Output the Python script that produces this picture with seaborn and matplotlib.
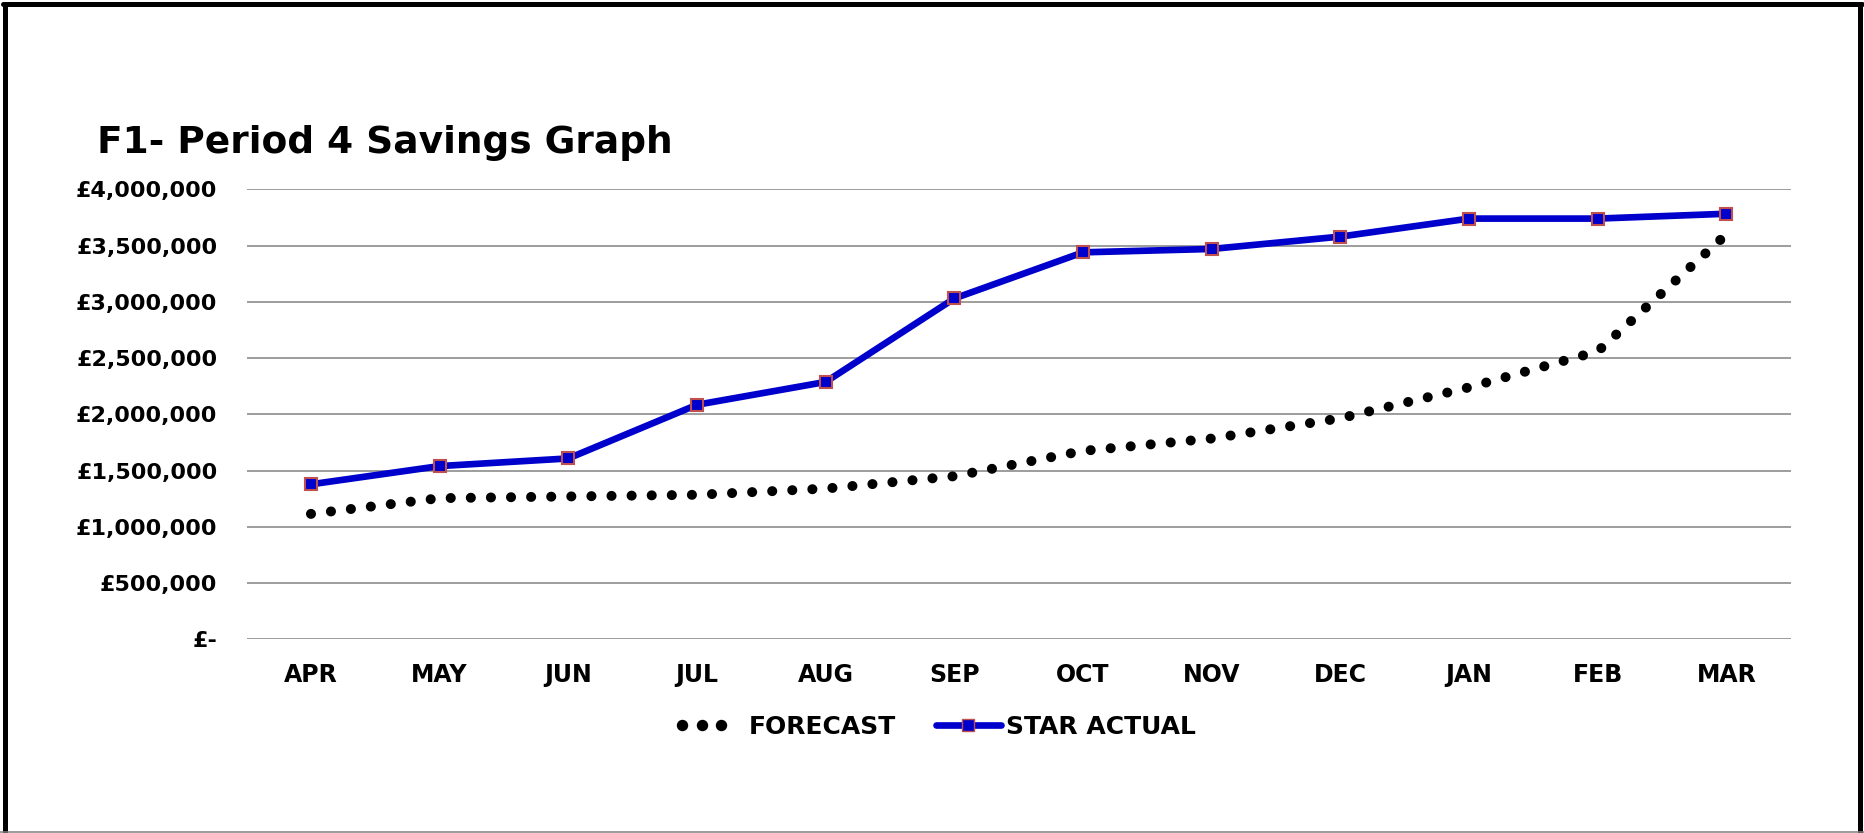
import matplotlib
matplotlib.use("Agg")
import matplotlib.pyplot as plt
import matplotlib.ticker as mticker
from matplotlib.lines import Line2D
from matplotlib.legend_handler import HandlerLine2D
import seaborn as sns
import numpy as np
import pandas as pd

# months of the financial year
months = ["APR", "MAY", "JUN", "JUL", "AUG", "SEP", "OCT", "NOV", "DEC", "JAN", "FEB", "MAR"]

# values (GBP)
forecast = [1115000, 1255000, 1270000, 1285000, 1340000, 1450000,
            1675000, 1785000, 1965000, 2240000, 2560000, 3600000]
star_actual = [1378000, 1540000, 1608000, 2085000, 2288000, 3030000,
               3440000, 3470000, 3580000, 3740000, 3740000, 3783000]

y_ticks = [0, 500000, 1000000, 1500000, 2000000, 2500000, 3000000, 3500000, 4000000]

title = "F1- Period 4 Savings Graph"
forecast_label = "FORECAST"
actual_label = "STAR ACTUAL"

df = pd.DataFrame({"month": months, "FORECAST": forecast, "STAR ACTUAL": star_actual})

sns.set_theme(style="white")
plt.rcParams["font.family"] = ["DejaVu Sans"]
plt.rcParams["font.weight"] = "bold"
plt.rcParams["text.color"] = "black"
plt.rcParams["xtick.color"] = "black"
plt.rcParams["ytick.color"] = "black"

fig = plt.figure(figsize=(18.64, 8.33), dpi=100)
ax = fig.add_axes([0.1323, 0.2325, 0.8284, 0.5402])

line_blue = "#0000CC"
edge_red = "#C0504D"
dot_style = (0, (0.01, 2.0))

sns.lineplot(data=df, x="month", y="FORECAST", ax=ax, sort=False, color="black")
sns.lineplot(data=df, x="month", y="STAR ACTUAL", ax=ax, sort=False,
             color=line_blue, marker="s")

# style the two lines (set after drawing so seaborn defaults don't win)
fc_line, act_line = ax.lines[0], ax.lines[1]
fc_line.set_linewidth(7.2)
fc_line.set_linestyle(dot_style)
fc_line.set_dash_capstyle("round")
act_line.set_linewidth(4.8)
act_line.set_markersize(8.5)
act_line.set_markerfacecolor(line_blue)
act_line.set_markeredgecolor(edge_red)
act_line.set_markeredgewidth(1.5)
act_line.set_solid_capstyle("round")

ax.set_xlim(-0.5, len(months) - 0.5)
ax.set_ylim(0, 4000000)
ax.set_yticks(y_ticks)


def money(v, pos):
    if v == 0:
        return "£-"
    return "£{:,.0f}".format(v)


ax.yaxis.set_major_formatter(mticker.FuncFormatter(money))
ax.grid(axis="y", color="#8C8C8C", linewidth=1.2)
ax.grid(axis="x", visible=False)
for s in ax.spines.values():
    s.set_visible(False)
ax.tick_params(axis="y", length=0, pad=21, labelsize=16)
ax.tick_params(axis="x", length=0, pad=17, labelsize=17)
for lab in ax.get_xticklabels() + ax.get_yticklabels():
    lab.set_fontweight("bold")
ax.set_xlabel("")
ax.set_ylabel("")

fig.text(97 / 1864, 1 - 153 / 833, title, fontsize=27, fontweight="bold",
         ha="left", va="baseline")


class DotsHandler(HandlerLine2D):
    # three dots packed to the left of the handle box, like the reference legend
    def get_xdata(self, legend, xdescent, ydescent, width, height, fontsize):
        xd = np.linspace(-xdescent + 0.05 * width, -xdescent + 0.66 * width, 3)
        return xd, xd


fc_handle = Line2D([], [], color="black", linestyle="none", marker="o",
                   markersize=7.2)
act_handle = Line2D([], [], color=line_blue, linewidth=4.8, marker="s", markersize=8.5,
                    markerfacecolor=line_blue, markeredgecolor=edge_red,
                    markeredgewidth=1.0, solid_capstyle="round")
fig.legend([fc_handle, act_handle], [forecast_label, actual_label], loc="center",
           bbox_to_anchor=(937 / 1864, 1 - 727 / 833), ncol=2, frameon=False,
           prop={"size": 18, "weight": "bold"}, handlelength=2.6,
           handletextpad=0.2, columnspacing=1.6,
           handler_map={fc_handle: DotsHandler(numpoints=3),
                        act_handle: HandlerLine2D(numpoints=1)})

# outer frame: thick black on left/top/right, thin grey at bottom
fig.add_artist(Line2D([5 / 1864, 5 / 1864], [0, 1 - 4 / 833], color="black",
                      linewidth=3.6, transform=fig.transFigure))
fig.add_artist(Line2D([3 / 1864, 1862 / 1864], [1 - 4 / 833, 1 - 4 / 833], color="black",
                      linewidth=3.6, transform=fig.transFigure))
fig.add_artist(Line2D([1860 / 1864, 1860 / 1864], [0, 1 - 4 / 833], color="black",
                      linewidth=3.6, transform=fig.transFigure))
fig.add_artist(Line2D([0, 1], [1.2 / 833, 1.2 / 833], color="#808080",
                      linewidth=1.1, transform=fig.transFigure))

fig.savefig("out.png", dpi=100, facecolor="white")
